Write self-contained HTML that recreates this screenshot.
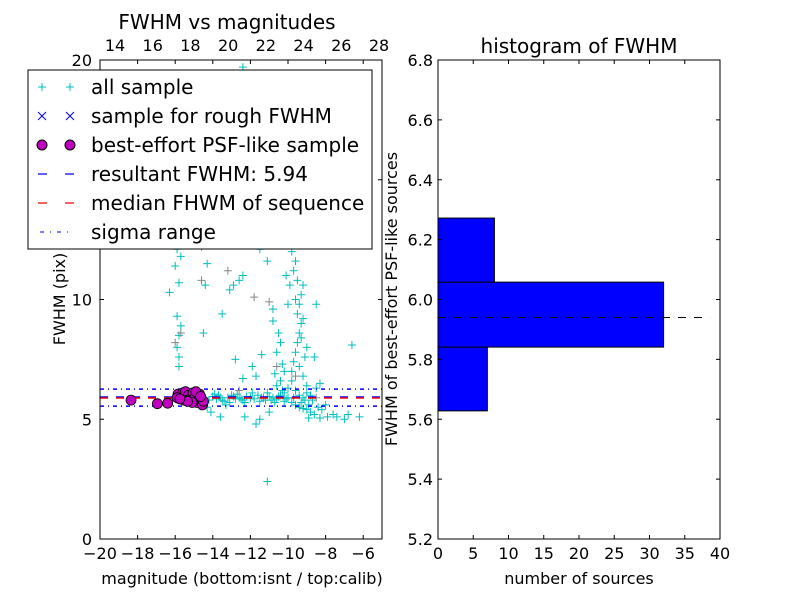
<!DOCTYPE html>
<html><head><meta charset="utf-8"><style>
body{margin:0;background:#fff}
svg text{font-family:"DejaVu Sans","Liberation Sans",sans-serif}
</style></head><body>
<svg id="c" width="800" height="600" xmlns="http://www.w3.org/2000/svg"></svg>
<script>
const allSample = [
[-14.4,5.9],[-14.2,5.8],[-14.0,5.95],[-13.8,5.85],[-13.6,5.9],[-13.4,5.75],[-13.2,5.9],[-13.0,6.0],[-12.8,5.85],[-12.6,5.9],
[-12.4,5.8],[-12.2,5.95],[-12.0,5.9],[-11.8,5.85],[-11.6,6.0],[-11.4,5.9],[-11.2,5.8],[-11.0,5.95],[-10.8,5.9],[-10.6,5.85],
[-10.4,6.0],[-10.2,5.75],[-10.0,5.9],[-9.8,5.7],[-9.6,5.6],[-9.4,5.5],[-9.2,5.45],[-9.0,5.4],[-8.8,5.3],[-8.6,5.2],
[-13.9,6.05],[-13.5,5.8],[-13.1,5.7],[-12.7,6.05],[-12.3,5.7],[-11.9,6.1],[-11.5,5.75],[-11.1,6.1],[-10.7,5.7],[-10.3,6.2],
[-14.3,5.5],[-14.1,5.3],[-13.6,5.1],[-13.3,5.6],[-12.3,5.1],[-11.7,4.8],[-11.5,5.0],[-11.0,5.3],[-8.9,5.05],[-8.3,5.05],
[-7.4,5.1],[-6.8,5.2],[-11.1,2.4],[-8.5,6.3],[-8.3,6.5],[-10.6,6.4],[-10.4,6.6],[-10.2,6.1],[-10.0,6.3],[-9.8,6.6],
[-9.8,7.0],[-9.7,7.4],[-9.6,7.8],[-9.5,8.2],[-9.4,8.6],[-9.3,9.0],[-9.5,9.4],[-9.4,9.8],[-9.3,10.2],[-9.2,10.6],
[-9.6,10.0],[-9.5,10.8],[-9.7,11.2],[-9.6,11.6],[-9.8,12.0],[-9.9,12.4],[-9.7,12.8],[-9.4,7.2],[-9.2,6.8],[-9.0,6.4],
[-9.1,7.6],[-9.0,8.0],[-9.3,8.4],[-9.2,9.2],[-9.6,6.2],[-9.4,6.0],[-9.1,5.8],[-8.9,5.6],[-9.0,6.1],[-9.2,5.9],
[-10.4,8.2],[-10.6,7.8],[-10.2,7.0],[-10.0,9.8],[-9.9,10.6],[-10.1,11.0],[-10.8,9.1],[-10.5,8.6],[-11.4,7.7],[-11.9,7.2],
[-12.8,7.5],[-12.4,6.7],[-11.7,6.8],[-10.7,6.9],[-8.6,7.6],[-6.6,8.1],[-8.5,9.8],[-13.5,9.4],[-12.9,10.6],[-12.6,10.8],
[-12.4,11.0],[-11.1,11.6],[-11.5,12.1],[-11.2,12.6],[-10.0,13.2],[-10.4,14.0],[-10.8,12.6],[-12.0,15.0],[-12.4,19.7],[-11.0,17.0],
[-15.8,7.2],[-15.8,7.6],[-15.9,8.0],[-15.8,8.5],[-15.7,8.9],[-15.9,9.3],[-15.8,10.7],[-16.0,11.4],[-15.7,11.8],[-15.8,12.4],
[-14.5,8.6],[-14.4,10.6],[-14.3,11.5],[-14.6,12.2],[-14.2,12.5],[-14.5,13.0],[-14.4,13.8],[-14.3,14.5],[-14.6,15.0],[-14.3,16.0],
[-16.3,10.3],[-15.9,12.1],[-13.1,10.4],[-10.8,9.6],[-10.3,7.3],[-15.4,6.1],[-15.0,6.2],[-14.6,6.0],
[-8.2,5.4],[-7.9,5.1],[-7.0,5.0],[-6.2,5.1],[-8.0,5.6],[-7.6,5.2],[-8.8,6.0],[-8.4,5.5],
[-13.7,6.0],[-12.9,5.95],[-12.5,5.85],[-11.3,5.9],[-10.9,5.8],[-10.5,5.95],[-10.1,5.85],[-9.7,5.9],[-9.3,5.7],[-8.7,5.8]
];
const roughSample = [[-16.0,8.2],[-15.7,8.6],[-14.6,10.8],[-13.2,11.2],[-11.8,10.1],[-11.0,9.9],[-10.6,7.2],[-8.5,5.9],[-9.6,6.8],[-12.6,6.2]];
const psfSample = [
[-18.35,5.8],[-16.95,5.65],[-16.4,5.67],[-15.85,6.05],[-15.7,5.95],[-15.6,6.1],[-15.45,6.15],[-15.3,6.0],[-15.2,5.85],[-15.05,6.1],
[-14.95,5.9],[-14.85,5.7],[-14.75,5.8],[-14.7,6.05],[-14.6,5.85],[-14.55,5.6],[-14.5,5.75],[-15.55,5.8],[-15.9,5.9],[-15.1,5.7],
[-14.9,6.15],[-15.35,5.75],[-14.65,5.95],[-15.75,5.85]
];
const resultFWHM = 5.94, medianFWHM = 5.9, sigmaLo = 5.55, sigmaHi = 6.26;
const binLo = [5.628, 5.841, 6.058];
const binHi = [5.841, 6.058, 6.272];
const binCounts = [7, 32, 8];
const leftXTicks = [-20,-18,-16,-14,-12,-10,-8,-6];
const leftYTicks = [0,5,10,15,20];
const topTicks = [14,16,18,20,22,24,26,28];
const rightXTicks = [0,5,10,15,20,25,30,35,40];
const rightYTicks = [5.2,5.4,5.6,5.8,6.0,6.2,6.4,6.6,6.8];

const NS="http://www.w3.org/2000/svg", svg=document.getElementById('c');
function el(t,a,p){const e=document.createElementNS(NS,t);for(const k in a)e.setAttribute(k,a[k]);(p||svg).appendChild(e);return e;}
function tx(s,x,y,a,p){const e=el('text',Object.assign({x:x,y:y,'font-size':16,fill:'#000'},a),p);e.textContent=s;return e;}
const L={x0:100,x1:382,y0:60,y1:539};
const lx=v=>L.x0+(v+20)/15*(L.x1-L.x0), ly=v=>L.y1-v/20*(L.y1-L.y0);
const tpx=v=>115+(v-14)*(379-115)/14;
const R={x0:438,x1:720,y0:60,y1:539};
const rx=v=>R.x0+v/40*(R.x1-R.x0), ry=v=>R.y1-(v-5.2)/1.6*(R.y1-R.y0);

// left plot
const lp=el('g',{},svg);
const sc=el('g',{stroke:'#00bfbf','stroke-width':1},lp);
allSample.forEach(p=>{const x=lx(p[0]),y=ly(p[1]);el('path',{d:`M${x-4} ${y}H${x+4}M${x} ${y-4}V${y+4}`},sc);});
const rg=el('g',{stroke:'#888','stroke-width':1},lp);
roughSample.forEach(p=>{const x=lx(p[0]),y=ly(p[1]);el('path',{d:`M${x-4} ${y}H${x+4}M${x} ${y-4}V${y+4}`},rg);});
const ln=el('g',{},lp);
[sigmaLo,sigmaHi].forEach(v=>el('line',{x1:L.x0,x2:L.x1,y1:ly(v),y2:ly(v),stroke:'#00f','stroke-width':1.5,'stroke-dasharray':'4 4 1 4'},ln));
el('line',{x1:L.x0,x2:L.x1,y1:ly(medianFWHM),y2:ly(medianFWHM),stroke:'#f00','stroke-width':2,'stroke-dasharray':'8 8'},ln);
el('line',{x1:L.x0,x2:L.x1,y1:ly(resultFWHM),y2:ly(resultFWHM),stroke:'#00f','stroke-width':1,'stroke-dasharray':'8 8'},ln);
const ps=el('g',{fill:'#bf00bf',stroke:'#000','stroke-width':0.8},lp);
psfSample.forEach(p=>el('circle',{cx:lx(p[0]),cy:ly(p[1]),r:5},ps));
el('rect',{x:L.x0,y:L.y0,width:L.x1-L.x0,height:L.y1-L.y0,fill:'none',stroke:'#000'},lp);
leftXTicks.forEach(v=>{const x=lx(v);el('path',{d:`M${x} ${L.y1}v-4M${x} ${L.y0}v4`,stroke:'#000'},lp);tx('\u2212'+(-v),x,559,{'text-anchor':'middle'},lp);});
leftYTicks.forEach(v=>{const y=ly(v);el('path',{d:`M${L.x0} ${y}h4M${L.x1} ${y}h-4`,stroke:'#000'},lp);tx(String(v),L.x0-8,y+6,{'text-anchor':'end'},lp);});
topTicks.forEach(v=>{const x=tpx(v);tx(String(v),x,51,{'text-anchor':'middle'},lp);});
tx('FWHM vs magnitudes',227,29,{'text-anchor':'middle','font-size':20},lp);
tx('magnitude (bottom:isnt / top:calib)',242,584,{'text-anchor':'middle'},lp);
tx('FWHM (pix)',0,0,{'text-anchor':'middle',transform:'translate(65,299) rotate(-90)'},lp);
// legend
const lg=el('g',{},lp);
el('rect',{x:28,y:70,width:344,height:179,fill:'#fff',stroke:'#000'},lg);
const items=['all sample','sample for rough FWHM','best-effort PSF-like sample','resultant FWHM: 5.94','median FHWM of sequence','sigma range'];
items.forEach((s,i)=>{const y=87+i*29;
 if(i==0){[42,70].forEach(x=>el('path',{d:`M${x-4} ${y}h8M${x} ${y-4}v8`,stroke:'#00bfbf'},lg));}
 if(i==1){[42,70].forEach(x=>el('path',{d:`M${x-4} ${y-4}l8 8M${x+4} ${y-4}l-8 8`,stroke:'#00f'},lg));}
 if(i==2){[42,70].forEach(x=>el('circle',{cx:x,cy:y,r:5,fill:'#bf00bf',stroke:'#000'},lg));}
 if(i==3)el('line',{x1:38,x2:74,y1:y,y2:y,stroke:'#00f','stroke-width':1.3,'stroke-dasharray':'9 18 9 0'},lg);
 if(i==4)el('line',{x1:38,x2:74,y1:y,y2:y,stroke:'#f00','stroke-width':1.3,'stroke-dasharray':'9 18 9 0'},lg);
 if(i==5)el('line',{x1:40,x2:72,y1:y,y2:y,stroke:'#00f','stroke-dasharray':'4 6 1 6'},lg);
 const t=tx(s,91,y+7,{'font-size':20},lg);
});

// right plot
const rp=el('g',{},svg);
binCounts.forEach((c,i)=>{const b=el('rect',{x:rx(0),y:ry(binHi[i]),width:rx(c)-rx(0),height:ry(binLo[i])-ry(binHi[i]),fill:'#00f',stroke:'#000'},rp);
 });
el('line',{x1:rx(0),x2:rx(38.6),y1:ry(resultFWHM),y2:ry(resultFWHM),stroke:'#000','stroke-dasharray':'8 8'},rp);
el('rect',{x:R.x0,y:R.y0,width:R.x1-R.x0,height:R.y1-R.y0,fill:'none',stroke:'#000'},rp);
rightXTicks.forEach(v=>{const x=rx(v);el('path',{d:`M${x} ${R.y1}v-4M${x} ${R.y0}v4`,stroke:'#000'},rp);tx(String(v),x,559,{'text-anchor':'middle'},rp);});
rightYTicks.forEach(v=>{const y=ry(v);el('path',{d:`M${R.x0} ${y}h4M${R.x1} ${y}h-4`,stroke:'#000'},rp);tx(v.toFixed(1),R.x0-5,y+6,{'text-anchor':'end'},rp);});
tx('histogram of FWHM',579,53,{'text-anchor':'middle','font-size':20},rp);
tx('number of sources',579,584,{'text-anchor':'middle'},rp);
tx('FWHM of best-effort PSF-like sources',0,0,{'text-anchor':'middle',transform:'translate(397,299) rotate(-90)'},rp);
</script>
</body></html>
